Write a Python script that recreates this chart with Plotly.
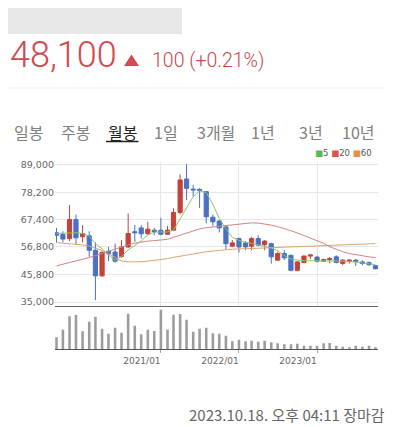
import plotly.graph_objects as go
import pandas as pd

# ---------------- data (monthly candles, 2019/09 .. 2023/10) ----------------
months = pd.date_range("2019-09-01", periods=50, freq="MS")

open_ = [62300, 61600, 60000, 67500, 60700, 61100, 55400, 45300, 55000, 54700,
         53000, 56700, 62700, 64200, 61900, 63300, 63300, 61700, 63300, 70300,
         83500, 79500, 79400, 78500, 68400, 66900, 64600, 57000, 60000, 58300,
         57000, 60000, 57600, 58000, 51500, 54100, 53400, 47500, 50600, 53100,
         52700, 51100, 51700, 52800, 50200, 51000, 51500, 50800, 50500, 49300]
high = [64200, 62900, 73200, 69500, 65300, 62900, 58500, 55000, 56700, 58000,
        59400, 69900, 65300, 65300, 66600, 64200, 68200, 65000, 71900, 85300,
        89300, 81100, 79800, 78700, 69500, 67300, 65000, 59400, 60300, 59000,
        60700, 61300, 59400, 58400, 54800, 55400, 53700, 51100, 53400, 53700,
        53200, 52100, 52800, 53400, 51900, 51900, 51900, 51500, 51000, 49600]
low = [58500, 58500, 59000, 57700, 58500, 52800, 35700, 44900, 51100, 50500,
       52400, 56300, 58700, 60000, 61300, 61300, 61300, 61600, 62900, 69500,
       75200, 76500, 72100, 66000, 65000, 62400, 55800, 56600, 54500, 55400,
       55400, 57100, 55400, 50100, 51100, 51500, 47100, 47100, 50200, 51900,
       50500, 50800, 50200, 50200, 49500, 50200, 49200, 49500, 49200, 47900]
close = [61300, 59800, 67500, 60300, 62000, 55400, 45300, 54500, 54000, 51100,
         56700, 62000, 62300, 61900, 63700, 62700, 61700, 63300, 70300, 83100,
         79800, 79200, 79000, 68600, 66600, 64200, 58000, 58300, 56700, 56700,
         60000, 57400, 59000, 52800, 54100, 52400, 47500, 50800, 53100, 53500,
         51100, 51700, 52100, 50600, 51500, 51500, 51100, 50200, 49700, 48100]

ma5 = [62000, 62000, 62200, 62300, 62000, 61000, 58000, 56000, 53500, 51500,
       53000, 55500, 57200, 59000, 61500, 62500, 62600, 62600, 63300, 67800,
       72300, 76500, 78800, 78200, 73500, 68000, 63800, 60500, 59300, 58500,
       58100, 57400, 57000, 56300, 55200, 53300, 52000, 51500, 51300, 51200,
       51200, 51200, 51200, 51200, 51100, 51000, 50700, 50300, 50100, 49700]
ma20 = [49200, 50000, 50600, 51200, 51800, 52500, 53300, 54200, 55000, 55800,
        56600, 57500, 58200, 58700, 59000, 59200, 59400, 59700, 60500, 61400,
        62300, 63200, 63800, 64300, 64600, 64900, 65200, 65500, 65800, 66000,
        66200, 66100, 65800, 65300, 64700, 64000, 63100, 62200, 61200, 60300,
        59300, 58100, 56800, 55700, 54800, 54100, 53600, 53200, 52800, 52500]
ma60 = [58400, 58200, 58000, 57800, 57500, 57000, 56300, 55300, 54000, 52500,
        51200, 50800, 50800, 50900, 51100, 51400, 51700, 52100, 52600, 53100,
        53600, 54000, 54400, 54800, 55100, 55400, 55600, 55800, 55900, 56000,
        56100, 56200, 56200, 56300, 56400, 56500, 56600, 56700, 56800, 56900,
        57000, 57100, 57200, 57300, 57400, 57500, 57700, 57800, 57900, 58000]

volume = [35, 58, 98, 102, 53, 82, 97, 61, 46, 64,
          49, 106, 70, 44, 58, 54, 118, 58, 103, 105,
          88, 52, 61, 64, 47, 46, 40, 23, 28, 23,
          25, 22, 25, 20, 17, 14, 14, 16, 10, 10,
          10, 17, 18, 10, 7, 5, 10, 7, 10, 5]

price_ticks = [35000, 45800, 56800, 67400, 78200, 89000]
price_tick_text = ["35,000", "45,800", "56,800", "67,400", "78,200", "89,000"]
year_ticks = ["2021-01-01", "2022-01-01", "2023-01-01"]
year_tick_text = ["2021/01", "2022/01", "2023/01"]

tabs = ["일봉", "주봉", "월봉", "1일", "3개월", "1년", "3년", "10년"]
tab_x = [28, 75, 122, 166, 216, 263, 311, 358]

# ---------------- styling ----------------
RED = "#c2433a"
BLUE = "#4a71c4"
OFF = 8                      # page body margin: figure starts at page (8, 8)
W, H = 393 - OFF, 427 - OFF
# plot area in page pixels: x 55..378, y 162..349
L, R = 55 - OFF, 393 - 378
T, B = 162 - OFF, 427 - 349
PW, PH = W - L - R, H - T - B


def xp(px):
    """page x pixel -> paper coordinate"""
    return (px - OFF - L) / PW


def yp(py):
    """page y pixel -> paper coordinate"""
    return (H - B - (py - OFF)) / PH


split = yp(305.7)

fig = go.Figure()
fig.add_trace(go.Scatter(x=months, y=ma60, mode="lines",
                         line=dict(color="#dda56e", width=1), hoverinfo="skip"))
fig.add_trace(go.Scatter(x=months, y=ma20, mode="lines",
                         line=dict(color="#d58383", width=1), hoverinfo="skip"))
fig.add_trace(go.Scatter(x=months, y=ma5, mode="lines",
                         line=dict(color="#86c86f", width=1), hoverinfo="skip"))
fig.add_trace(go.Candlestick(
    x=months, open=open_, high=high, low=low, close=close,
    increasing=dict(line=dict(color=RED, width=1), fillcolor=RED),
    decreasing=dict(line=dict(color=BLUE, width=1), fillcolor=BLUE),
    whiskerwidth=0, hoverinfo="skip"))
fig.add_trace(go.Bar(x=months, y=volume, xaxis="x2", yaxis="y2",
                     marker=dict(color="#9c9c9c", line=dict(width=0)),
                     width=12 * 86400000, hoverinfo="skip"))

xr = ["2019-08-25", "2023-10-13"]
tickfont = dict(family="DejaVu Sans", size=9, color="#666666")

fig.update_layout(
    width=W, height=H,
    margin=dict(l=L, r=R, t=T, b=B),
    paper_bgcolor="white", plot_bgcolor="white",
    showlegend=False, hovermode=False,
    boxgap=0.3, boxgroupgap=0,
    xaxis=dict(domain=[0, 1], anchor="y", type="date", range=xr,
               rangeslider=dict(visible=False),
               tickvals=year_ticks, showticklabels=False, ticks="",
               showgrid=True, gridcolor="#e6e6e6", gridwidth=1,
               showline=True, linecolor="#666666", linewidth=1,
               zeroline=False),
    yaxis=dict(domain=[split, 1], anchor="x", range=[33540, 90180],
               tickvals=price_ticks, ticktext=price_tick_text,
               tickfont=dict(family="DejaVu Sans", size=9.5, color="#666666"),
               ticks="", showgrid=True, gridcolor="#e6e6e6", zeroline=False,
               showline=False),
    xaxis2=dict(domain=[0, 1], anchor="y2", type="date", range=xr,
                matches="x",
                tickvals=year_ticks, ticktext=year_tick_text,
                tickfont=tickfont, ticks="outside", ticklen=3,
                tickcolor="#aaaaaa", ticklabelshift=-19,
                showgrid=False, showline=True, linecolor="#555555",
                linewidth=1, zeroline=False),
    yaxis2=dict(domain=[0, split], anchor="x2", range=[0, 130],
                visible=False, showgrid=False, zeroline=False),
)

shapes = [
    dict(type="rect", xref="paper", yref="paper",
         x0=xp(8), x1=xp(182), y0=yp(34), y1=yp(8),
         fillcolor="#e7e7e7", line=dict(width=0), layer="below"),
    dict(type="line", xref="paper", yref="paper",
         x0=xp(8), x1=xp(393), y0=yp(88), y1=yp(88),
         line=dict(color="#eeeeee", width=1)),
    dict(type="path", xref="paper", yref="paper",
         path=f"M {xp(124)},{yp(66)} L {xp(139)},{yp(66)} L {xp(131.5)},{yp(54.5)} Z",
         fillcolor="#d04a4f", line=dict(width=0)),
    dict(type="line", xref="paper", yref="paper",
         x0=xp(106), x1=xp(138.5), y0=yp(141.5), y1=yp(141.5),
         line=dict(color="#222222", width=1.5)),
]

ann = [
    dict(text="48,100", x=xp(8), y=yp(55), xanchor="left", yanchor="middle",
         font=dict(family="Roboto", size=36, weight=300, color="#d04a4f")),
    dict(text="100 (+0.21%)", x=xp(150), y=yp(60), xanchor="left", yanchor="middle",
         font=dict(family="Roboto", size=19.5, weight=300, color="#c9484d")),
    dict(text='<span style="color:#5cb85c">■</span>5 '
              '<span style="color:#d9534f">■</span>20 '
              '<span style="color:#e0914a">■</span>60',
         x=xp(374), y=yp(153), xanchor="right", yanchor="middle",
         font=dict(family="DejaVu Sans", size=8.5, color="#555555")),
    dict(text="2023.10.18. 오후 04:11 장마감", x=xp(387), y=yp(414),
         xanchor="right", yanchor="middle",
         font=dict(family="Noto Sans CJK KR", size=15, color="#666666")),
]
for t, x in zip(tabs, tab_x):
    ann.append(dict(text=t, x=xp(x), y=yp(132), xanchor="center", yanchor="middle",
                    font=dict(family="Noto Sans CJK KR", size=16,
                              color="#222222" if t == "월봉" else "#808080")))
for a in ann:
    a.update(xref="paper", yref="paper", showarrow=False)

fig.update_layout(shapes=shapes, annotations=ann)
fig.write_html("out.html")
